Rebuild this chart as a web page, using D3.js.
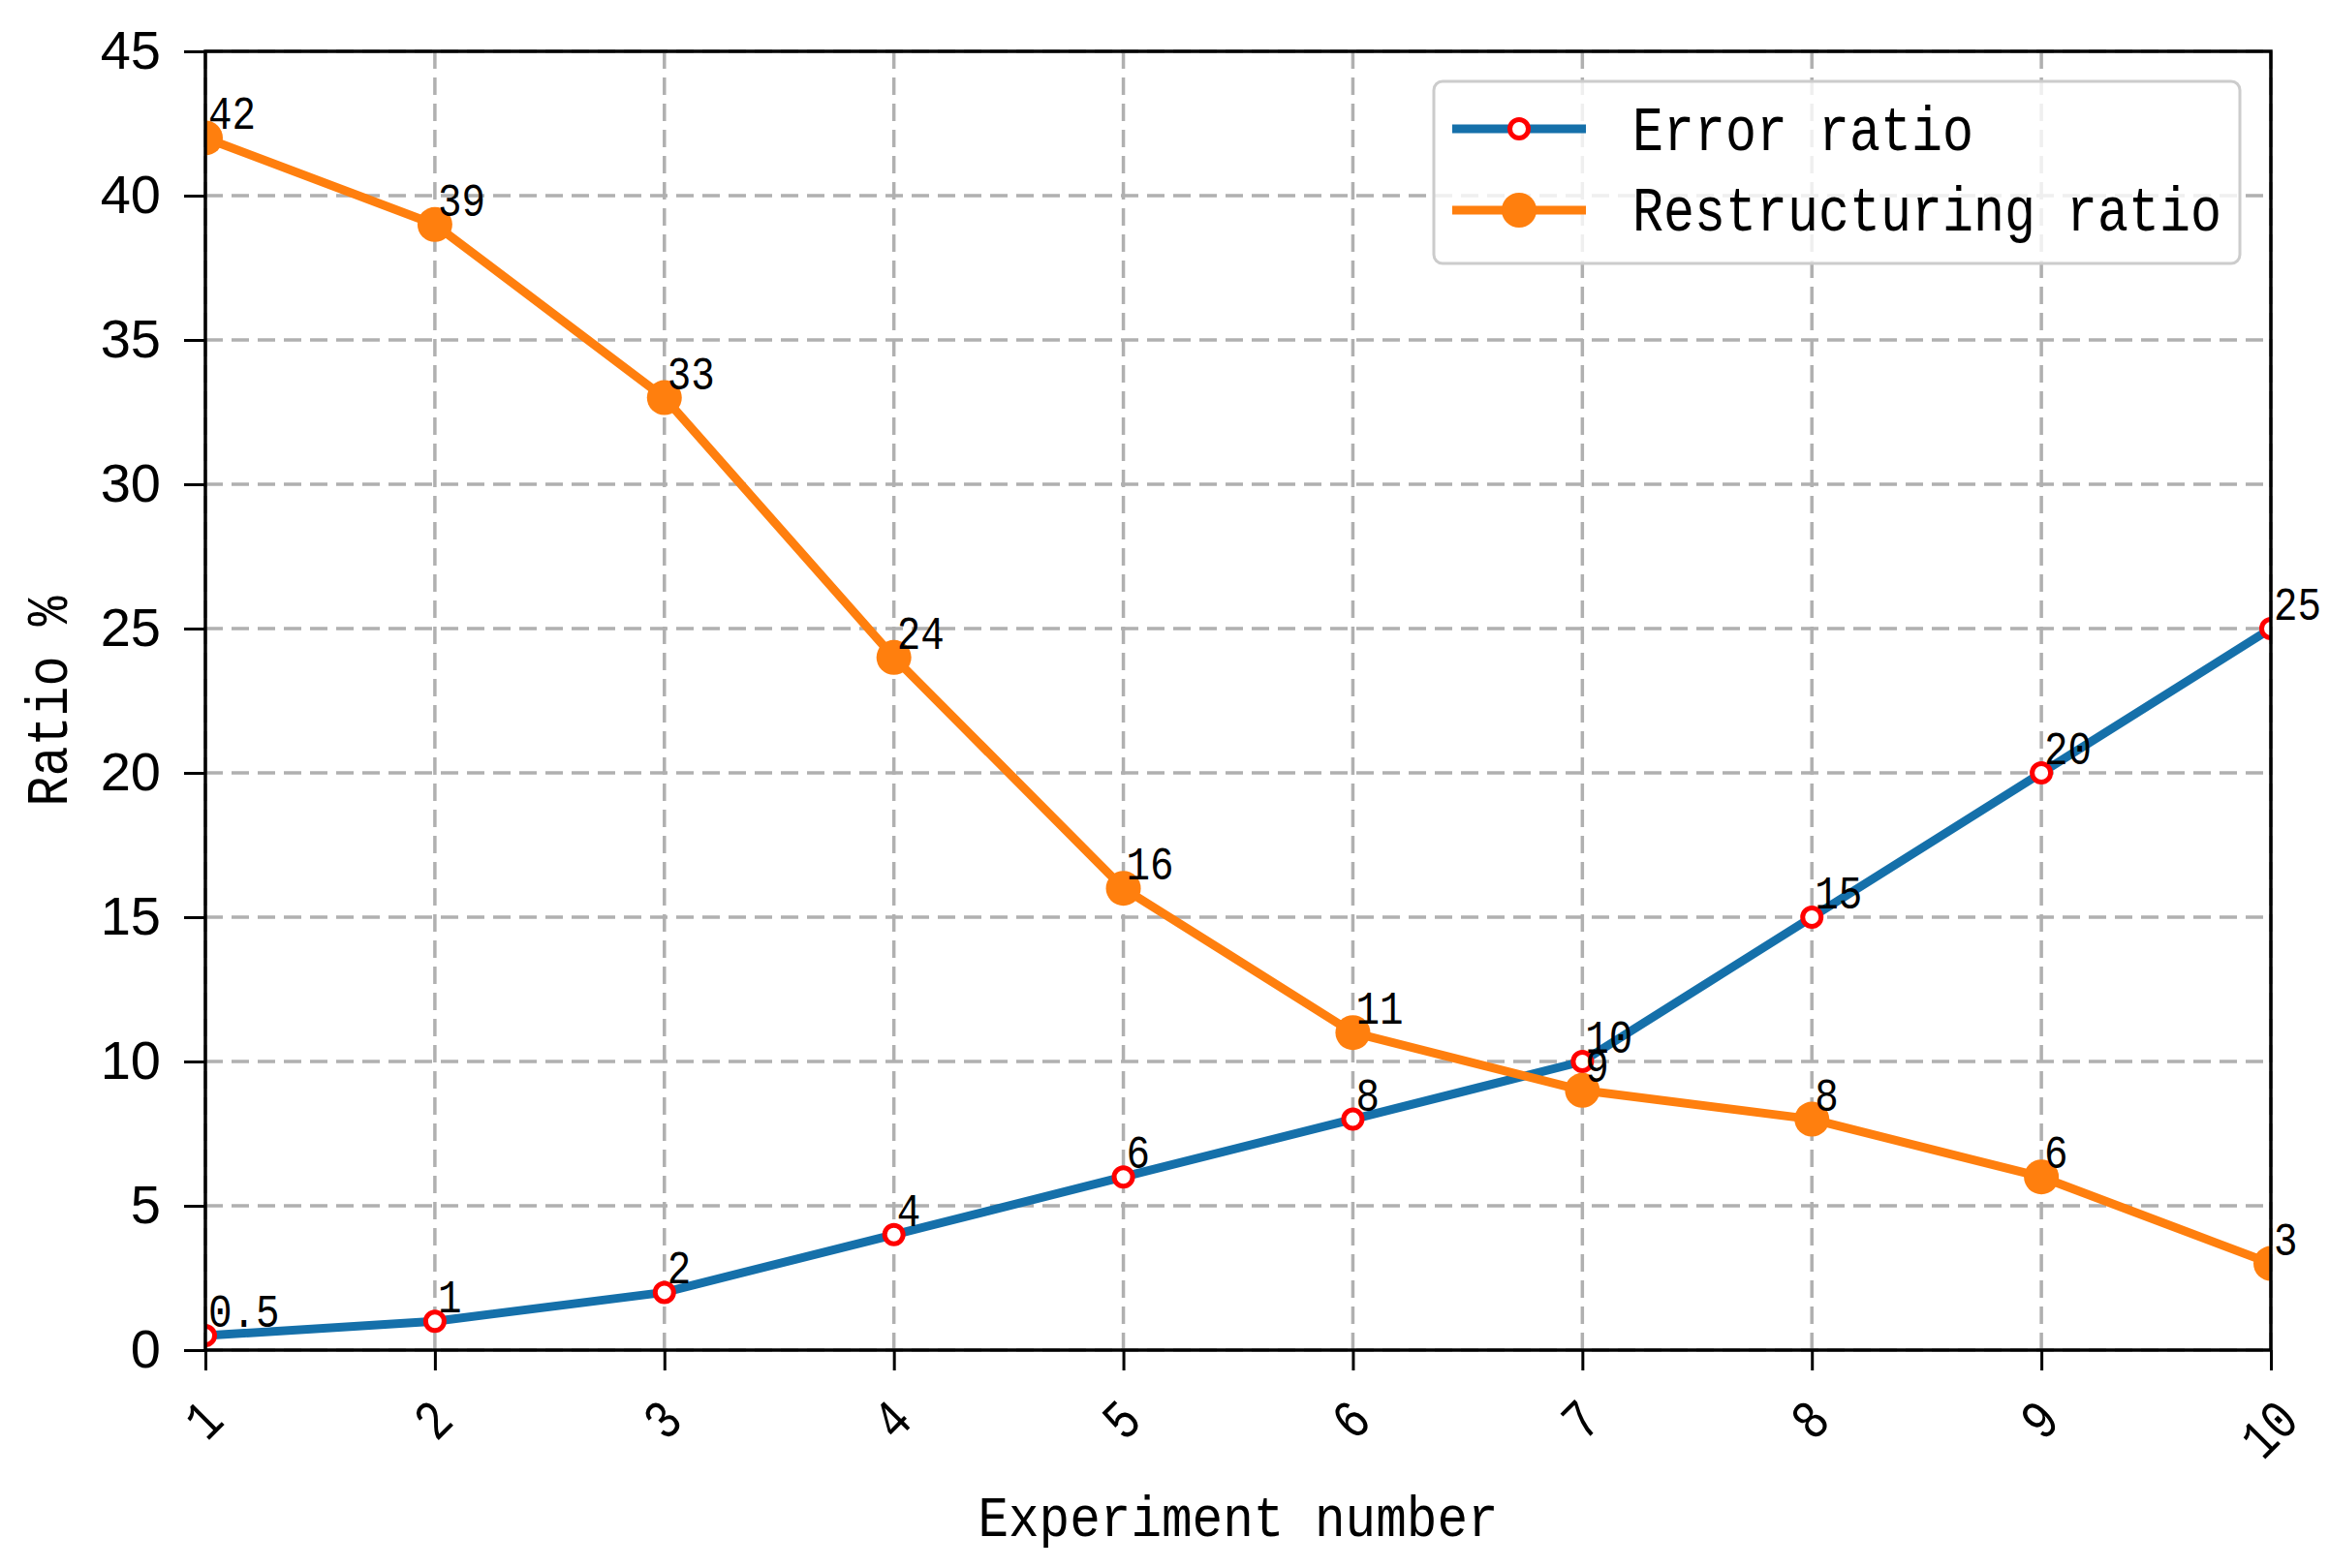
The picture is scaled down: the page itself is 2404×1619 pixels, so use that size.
<!DOCTYPE html>
<html>
<head>
<meta charset="utf-8">
<script src="https://cdn.jsdelivr.net/npm/d3@7"></script>
<style>
  html, body { margin: 0; padding: 0; background: #ffffff; }
  svg { display: block; }
</style>
</head>
<body>
<svg id="chart" width="2404" height="1619"></svg>
<script>
// ---- data ----
const experiments = [1, 2, 3, 4, 5, 6, 7, 8, 9, 10];
const errorRatio = [0.5, 1, 2, 4, 6, 8, 10, 15, 20, 25];
const restructuringRatio = [42, 39, 33, 24, 16, 11, 9, 8, 6, 3];
const yTickValues = [0, 5, 10, 15, 20, 25, 30, 35, 40, 45];
const xTickLabels = ["1", "2", "3", "4", "5", "6", "7", "8", "9", "10"];
const seriesNames = ["Error ratio", "Restructuring ratio"];
const xAxisTitle = "Experiment number";
const yAxisTitle = "Ratio %";

// ---- layout ----
const W = 2404, H = 1619;
const plot = { left: 212, right: 2344, top: 53, bottom: 1394 };
const BLUE = "#1570aa", ORANGE = "#ff7f0e", RED = "#ff0000";
const MONO = "'Liberation Mono', 'DejaVu Sans Mono', monospace";
const SANS = "'Liberation Sans', Arial, sans-serif";

const svg = d3.select("#chart");
svg.append("rect").attr("width", W).attr("height", H).attr("fill", "#fff");

const x = d3.scaleLinear().domain([1, 10]).range([plot.left, plot.right]);
const y = d3.scaleLinear().domain([0, 45]).range([plot.bottom, plot.top]);

// helper for the narrow monospace look
function mono(sel, fs, charW) {
  sel.style("font-family", MONO).style("font-size", fs + "px")
    .each(function () {
      const t = d3.select(this).text();
      d3.select(this).attr("textLength", t.length * charW).attr("lengthAdjust", "spacingAndGlyphs");
    });
  return sel;
}

svg.append("defs").append("clipPath").attr("id", "plotclip")
  .append("rect").attr("x", plot.left).attr("y", plot.top)
  .attr("width", plot.right - plot.left).attr("height", plot.bottom - plot.top);

// ---- grid ----
const grid = svg.append("g");
grid.selectAll("line.v").data(experiments).join("line")
  .attr("x1", d => x(d)).attr("x2", d => x(d))
  .attr("y1", plot.top).attr("y2", plot.bottom)
  .attr("stroke", "#b0b0b0").attr("stroke-width", 3.5).attr("stroke-dasharray", "18,9");
grid.selectAll("line.h").data(yTickValues).join("line")
  .attr("x1", plot.left).attr("x2", plot.right)
  .attr("y1", d => y(d)).attr("y2", d => y(d))
  .attr("stroke", "#b0b0b0").attr("stroke-width", 3.5).attr("stroke-dasharray", "18,9");

// ---- axes ----
const yAxis = svg.append("g").attr("transform", `translate(${plot.left},0)`)
  .call(d3.axisLeft(y).tickValues(yTickValues).tickSize(22).tickPadding(24).tickFormat(d3.format("d")));
yAxis.select(".domain").remove();
yAxis.selectAll(".tick line").attr("stroke", "#000").attr("stroke-width", 3);
yAxis.selectAll(".tick text").style("font-family", SANS).style("font-size", "56px").attr("fill", "#000");

const xAxis = svg.append("g").attr("transform", `translate(0,${plot.bottom})`)
  .call(d3.axisBottom(x).tickValues(experiments).tickSize(21).tickFormat((d, i) => xTickLabels[i]));
xAxis.select(".domain").remove();
xAxis.selectAll(".tick line").attr("stroke", "#000").attr("stroke-width", 3);
const xfs = 58, xcw = 28;
xAxis.selectAll(".tick text")
  .attr("fill", "#000")
  .attr("y", null).attr("dy", null)
  .attr("text-anchor", "middle")
  .attr("dominant-baseline", "central")
  .call(s => mono(s, xfs, xcw))
  .attr("transform", function () {
    const n = d3.select(this).text().length;
    const yc = 44 + (n * xcw + xfs) / 2.828;
    return `translate(0,${yc}) rotate(-45)`;
  });

// ---- series ----
const line = d3.line().x((d, i) => x(experiments[i])).y(d => y(d));
const plotG = svg.append("g").attr("clip-path", "url(#plotclip)");

plotG.append("path").datum(errorRatio).attr("d", line)
  .attr("fill", "none").attr("stroke", BLUE).attr("stroke-width", 9).attr("stroke-linejoin", "round");
plotG.selectAll("circle.err").data(errorRatio).join("circle")
  .attr("cx", (d, i) => x(experiments[i])).attr("cy", d => y(d)).attr("r", 9.5)
  .attr("fill", "#fff").attr("stroke", RED).attr("stroke-width", 5);

plotG.append("path").datum(restructuringRatio).attr("d", line)
  .attr("fill", "none").attr("stroke", ORANGE).attr("stroke-width", 9).attr("stroke-linejoin", "round");
plotG.selectAll("circle.res").data(restructuringRatio).join("circle")
  .attr("cx", (d, i) => x(experiments[i])).attr("cy", d => y(d)).attr("r", 18)
  .attr("fill", ORANGE);

// ---- frame ----
svg.append("rect").attr("x", plot.left).attr("y", plot.top)
  .attr("width", plot.right - plot.left).attr("height", plot.bottom - plot.top)
  .attr("fill", "none").attr("stroke", "#000").attr("stroke-width", 3.5);

// ---- value annotations ----
const ann = svg.append("g");
[errorRatio, restructuringRatio].forEach(series => {
  ann.selectAll(null).data(series).join("text")
    .attr("x", (d, i) => x(experiments[i]) + 3)
    .attr("y", d => y(d) - 9)
    .attr("fill", "#000")
    .text(d => String(d))
    .call(s => mono(s, 48, 24.5));
});

// ---- axis titles ----
svg.append("text").attr("x", (plot.left + plot.right) / 2).attr("y", 1586)
  .attr("text-anchor", "middle").attr("fill", "#000").text(xAxisTitle)
  .call(s => mono(s, 60, 31.6));
svg.append("text").attr("transform", `translate(69,724) rotate(-90)`)
  .attr("text-anchor", "middle").attr("fill", "#000").text(yAxisTitle)
  .call(s => mono(s, 62, 31));

// ---- legend ----
const lg = svg.append("g");
lg.append("rect").attr("x", 1480).attr("y", 84).attr("width", 832).attr("height", 188)
  .attr("rx", 9).attr("fill", "#fff").attr("fill-opacity", 0.8)
  .attr("stroke", "#cccccc").attr("stroke-width", 3);
const legendRows = [
  { name: seriesNames[0], color: BLUE, ly: 133, by: 155 },
  { name: seriesNames[1], color: ORANGE, ly: 217, by: 238 }
];
legendRows.forEach((r, i) => {
  lg.append("line").attr("x1", 1499).attr("x2", 1637).attr("y1", r.ly).attr("y2", r.ly)
    .attr("stroke", r.color).attr("stroke-width", 9);
  if (i === 0) {
    lg.append("circle").attr("cx", 1568).attr("cy", r.ly).attr("r", 9.5)
      .attr("fill", "#fff").attr("stroke", RED).attr("stroke-width", 5);
  } else {
    lg.append("circle").attr("cx", 1568).attr("cy", r.ly).attr("r", 18).attr("fill", ORANGE);
  }
  lg.append("text").attr("x", 1685).attr("y", r.by).attr("fill", "#000").text(r.name)
    .call(s => mono(s, 64, 32));
});
</script>
</body>
</html>
